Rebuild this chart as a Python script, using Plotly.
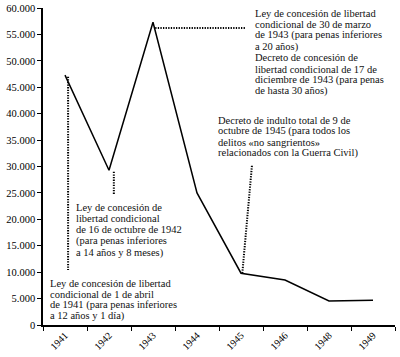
import plotly.graph_objects as go

years = ["1941", "1942", "1943", "1944", "1945", "1946", "1948", "1949"]
values = [47300, 29300, 57300, 25000, 9800, 8500, 4550, 4700]
y_ticks = [0, 5000, 10000, 15000, 20000, 25000, 30000, 35000, 40000, 45000, 50000, 55000, 60000]

# leader lines (category index, value) pairs
lead_1941_x = [0.07, 0.07]
lead_1941_y = [47000, 10400]
lead_1942_x = [1.11, 1.11]
lead_1942_y = [29000, 24600]
lead_1943_x = [2.05, 4.09]
lead_1943_y = [56200, 56200]
lead_1945_x = [4.03, 4.25]
lead_1945_y = [9800, 30300]

note_1941 = ["Ley de concesión de libertad",
             "condicional de 1 de abril",
             "de 1941 (para penas inferiores",
             "a 12 años y 1 día)"]
note_1942 = ["Ley de concesión de",
             "libertad condicional",
             "de 16 de octubre de 1942",
             "(para penas inferiores",
             "a 14 años y 8 meses)"]
note_1943 = ["Ley de concesión de libertad",
             "condicional de 30 de marzo",
             "de 1943 (para penas inferiores",
             "a 20 años)",
             "Decreto de concesión de",
             "libertad condicional de 17 de",
             "diciembre de 1943 (para penas",
             "de hasta 30 años)"]
note_1945 = ["Decreto de indulto total de 9 de",
             "octubre de 1945 (para todos los",
             "delitos «no sangrientos»",
             "relacionados con la Guerra Civil)"]

FONT = "Liberation Serif, Times New Roman, serif"
idx = list(range(len(years)))

fig = go.Figure()
fig.add_trace(go.Scatter(x=idx, y=values, mode="lines",
                         line=dict(color="black", width=1.5), showlegend=False))
for lx, ly in [(lead_1941_x, lead_1941_y), (lead_1942_x, lead_1942_y),
               (lead_1943_x, lead_1943_y), (lead_1945_x, lead_1945_y)]:
    fig.add_trace(go.Scatter(x=lx, y=ly, mode="lines",
                             line=dict(color="black", width=2, dash="1.3px,1.3px"),
                             showlegend=False))

annotations = []
def add_block(lines, x0, y0, spacing=11.2):
    for i, t in enumerate(lines):
        annotations.append(dict(x=x0, y=y0, xref="x", yref="y", text=t,
                                showarrow=False, xanchor="left", yanchor="middle",
                                yshift=-i * spacing,
                                font=dict(family=FONT, size=10.5, color="#111")))

add_block(note_1941, -0.39, 7950, 11.0)
add_block(note_1942, 0.2, 22330, 11.4)
add_block(note_1943, 4.27, 59050, 11.2)
add_block(note_1945, 3.43, 38800, 11.0)

fig.update_layout(
    width=400, height=357,
    margin=dict(l=43, r=5, t=8, b=32, autoexpand=False),
    paper_bgcolor="white", plot_bgcolor="white",
    separators=",.",
    annotations=annotations,
    hovermode=False,
    xaxis=dict(range=[-0.5, 7.5], tickvals=idx, ticktext=years, tickangle=-45,
               ticks="", ticklen=0, showline=True, linecolor="black", linewidth=1.5,
               showgrid=False, zeroline=False, ticklabelstandoff=-1,
               tickfont=dict(family=FONT, size=10, color="black"),
               minor=dict(tickvals=[i - 0.5 for i in range(len(years) + 1)],
                          ticks="outside", ticklen=4, tickcolor="black",
                          tickwidth=1.2, showgrid=False),
               automargin=False),
    yaxis=dict(range=[0, 60000], tickvals=y_ticks, tickformat=",d",
               ticks="outside", ticklen=4, tickcolor="black", tickwidth=1.2,
               showline=True, linecolor="black", linewidth=1.5,
               showgrid=False, zeroline=False,
               tickfont=dict(family=FONT, size=10.5, color="black"),
               automargin=False),
)

fig.write_html("out.html", config={"displayModeBar": False},
               post_script="document.body.style.margin='0';document.body.style.overflow='hidden';")
